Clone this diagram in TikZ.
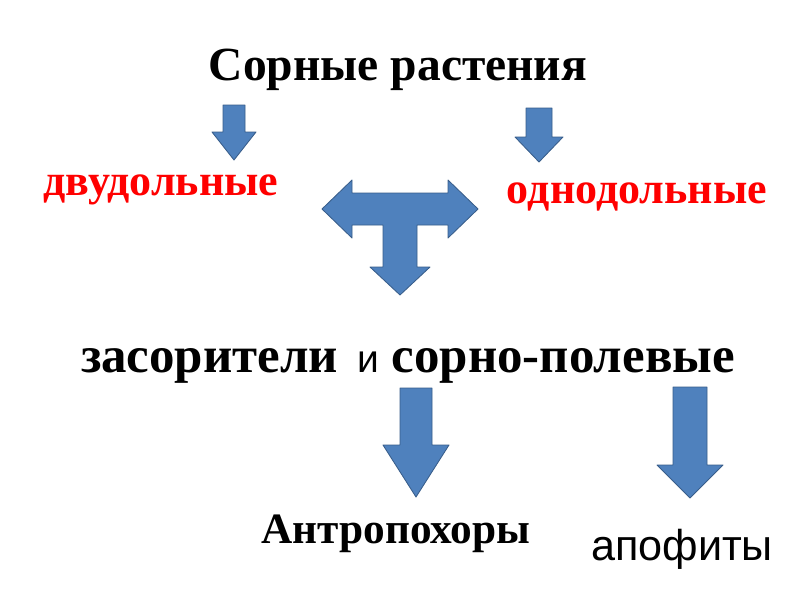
\documentclass[tikz,border=0pt]{standalone}
\usepackage{fontspec}
\setmainfont{Liberation Serif}
\newfontfamily\arialfont{Liberation Sans}
\usepackage{tikz}
\usetikzlibrary{arrows.meta,calc,positioning}
\definecolor{ArrowBlue}{RGB}{79,129,189}
\definecolor{ArrowEdge}{RGB}{56,93,138}
% down block arrow: x, top, half shaft, head y, half head, tip y
\newcommand{\blockdown}[6]{%
  \filldraw[blockarrow] (#1-#3,#2) -- (#1+#3,#2) -- (#1+#3,#4) -- (#1+#5,#4)
    -- (#1,#6) -- (#1-#5,#4) -- (#1-#3,#4) -- cycle;}

\begin{document}
\begin{tikzpicture}[x=0.025cm,y=-0.025cm,
  blockarrow/.style={fill=ArrowBlue,draw=ArrowEdge,line width=0.6pt,line join=round},
  title/.style={font=\bfseries\fontsize{33.8}{36}\selectfont,anchor=base},
  redlabel/.style={font=\bfseries\fontsize{31.3}{33}\selectfont,text=red,anchor=base},
  midlabel/.style={font=\bfseries\fontsize{36.2}{38}\selectfont,anchor=base}]
\useasboundingbox[fill=white] (0,0) rectangle (800,600);
\node[title] (weeds) at (398,80) {Сорные растения};
\node[redlabel] (dicots) at (161,195) {двудольные};
\node[redlabel] (monocots) at (637,203) {однодольные};
\node[midlabel] (groups) at (408,372) {засорители {\arialfont\mdseries\fontsize{27.7}{29}\selectfont\,и} сорно-полевые};
\node[midlabel,font=\bfseries\fontsize{30.8}{33}\selectfont] (anthropo) at (396,543) {Антропохоры};
\node[anchor=base,font=\arialfont\fontsize{30.7}{33}\selectfont] (apoph) at (682,560) {апофиты};
% small arrows under the title
\blockdown{234}{105}{11}{132}{22}{160}
\blockdown{539}{108}{13}{137}{24}{162}
% T-shaped arrow
\filldraw[blockarrow] (322,209) -- (352,180) -- (352,193) -- (448,193) -- (448,180)
  -- (478,209) -- (448,238) -- (448,225) -- (417,225) -- (417,267) -- (430,267)
  -- (400,295) -- (370,267) -- (383,267) -- (383,225) -- (352,225) -- (352,238) -- cycle;
% arrows under the middle line
\blockdown{416}{388}{16}{445}{33}{497}
\blockdown{690}{387}{17}{465}{33}{498}
\end{tikzpicture}
\end{document}
